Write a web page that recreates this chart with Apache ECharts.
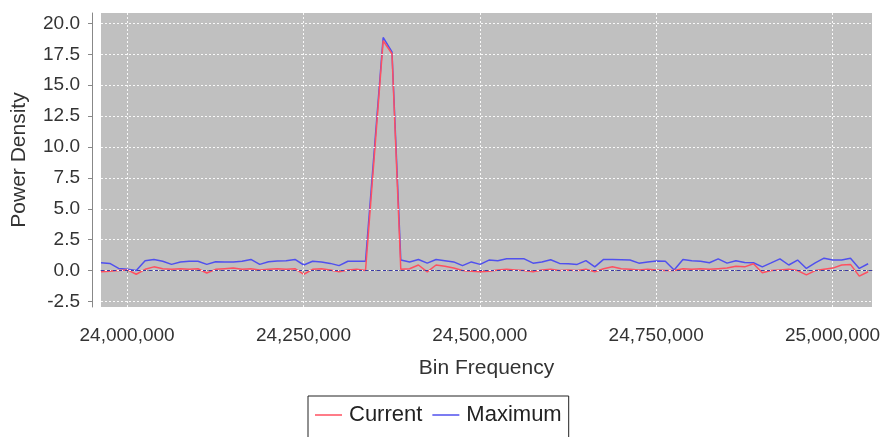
<!DOCTYPE html>
<html>
<head>
<meta charset="utf-8">
<script src="https://cdn.jsdelivr.net/npm/echarts@6/dist/echarts.min.js"></script>
<style>
html,body{margin:0;padding:0;background:#fff;}
#chart{width:886px;height:437px;}
</style>
</head>
<body>
<div id="chart"></div>
<script>
// Bin frequencies (Hz)
var binFrequency = [
  23963000, 23975500, 23988000, 24000500, 24013000, 24025500, 24038000, 24050500,
  24063000, 24075500, 24088000, 24100500, 24113000, 24125500, 24138000, 24150500,
  24163000, 24175500, 24188000, 24200500, 24213000, 24225500, 24238000, 24250500,
  24263000, 24275500, 24288000, 24300500, 24313000, 24325500, 24338000, 24350500,
  24363000, 24375500, 24388000, 24400500, 24413000, 24425500, 24438000, 24450500,
  24463000, 24475500, 24488000, 24500500, 24513000, 24525500, 24538000, 24550500,
  24563000, 24575500, 24588000, 24600500, 24613000, 24625500, 24638000, 24650500,
  24663000, 24675500, 24688000, 24700500, 24713000, 24725500, 24738000, 24750500,
  24763000, 24775500, 24788000, 24800500, 24813000, 24825500, 24838000, 24850500,
  24863000, 24875500, 24888000, 24900500, 24913000, 24925500, 24938000, 24950500,
  24963000, 24975500, 24988000, 25000500, 25013000, 25025500, 25038000, 25050500
];
// Current power density
var currentValues = [
  -0.10, -0.05, 0.00, 0.05, -0.30, 0.10, 0.30, 0.15,
  0.10, 0.15, 0.10, 0.15, -0.20, 0.10, 0.15, 0.20,
  0.10, 0.15, 0.05, 0.10, 0.15, 0.10, 0.15, -0.30,
  0.10, 0.15, 0.05, -0.10, 0.05, 0.10, 0.00, 9.30,
  18.60, 17.55, 0.10, 0.15, 0.45, -0.10, 0.45, 0.35,
  0.20, 0.00, -0.05, -0.10, -0.05, 0.05, 0.10, 0.05,
  0.00, -0.10, 0.05, 0.10, 0.00, 0.05, 0.00, 0.10,
  -0.10, 0.15, 0.30, 0.15, 0.10, 0.05, 0.10, 0.05,
  0.00, 0.00, 0.15, 0.10, 0.15, 0.10, 0.15, 0.20,
  0.35, 0.30, 0.55, -0.17, 0.00, 0.05, 0.10, 0.00,
  -0.35, 0.00, 0.10, 0.20, 0.45, 0.50, -0.45, -0.10
];
// Maximum power density
var maximumValues = [
  0.63, 0.58, 0.17, 0.10, 0.00, 0.80, 0.90, 0.75,
  0.50, 0.70, 0.75, 0.75, 0.50, 0.72, 0.70, 0.70,
  0.75, 0.90, 0.50, 0.72, 0.78, 0.80, 0.90, 0.45,
  0.75, 0.70, 0.58, 0.40, 0.75, 0.75, 0.75, 9.80,
  18.87, 17.70, 0.85, 0.70, 0.90, 0.60, 0.90, 0.80,
  0.70, 0.40, 0.70, 0.50, 0.85, 0.80, 0.95, 0.95,
  0.95, 0.60, 0.70, 0.88, 0.58, 0.55, 0.50, 0.80,
  0.30, 0.90, 0.90, 0.88, 0.85, 0.60, 0.70, 0.78,
  0.75, 0.05, 0.90, 0.80, 0.75, 0.63, 0.95, 0.60,
  0.80, 0.65, 0.63, 0.30, 0.62, 0.95, 0.45, 0.85,
  0.17, 0.62, 1.00, 0.85, 0.85, 1.00, 0.17, 0.55
];
var yTicks = [-2.5, 0, 2.5, 5, 7.5, 10, 12.5, 15, 17.5, 20];
var xTicks = [24000000, 24250000, 24500000, 24750000, 25000000];
var seriesNames = ['Current', 'Maximum'];

function pairs(xs, ys) {
  var out = [];
  for (var i = 0; i < xs.length; i++) out.push([xs[i], ys[i]]);
  return out;
}
function fmtThousands(v) {
  return String(Math.round(v)).replace(/\B(?=(\d{3})+(?!\d))/g, ',');
}

var FONT = 'Liberation Sans, Arial, sans-serif';
var gridLines = [];
yTicks.forEach(function (v) { gridLines.push({ yAxis: v }); });
xTicks.forEach(function (v) { gridLines.push({ xAxis: v }); });

var chart = echarts.init(document.getElementById('chart'), null, { renderer: 'canvas' });
chart.setOption({
  animation: false,
  backgroundColor: '#ffffff',
  textStyle: { fontFamily: FONT },
  grid: {
    left: 101, right: 14, top: 13, bottom: 130,
    show: true, backgroundColor: '#c0c0c0', borderWidth: 0
  },
  legend: {
    data: seriesNames,
    left: 308, top: 396,
    orient: 'horizontal',
    icon: 'rect',
    itemWidth: 27, itemHeight: 1.5,
    itemGap: 10,
    padding: [8, 7, 16, 7],
    borderColor: '#222', borderWidth: 1,
    textStyle: { fontFamily: FONT, fontSize: 22, color: '#222', padding: [0, 0, 0, 2] }
  },
  xAxis: {
    type: 'value',
    min: 23963000, max: 25056000,
    offset: 9,
    name: 'Bin Frequency',
    nameLocation: 'middle',
    nameGap: 42,
    nameTextStyle: { fontFamily: FONT, fontSize: 21, color: '#333' },
    axisLine: { show: true, lineStyle: { color: '#888', width: 1 } },
    axisTick: { show: true, length: 4, customValues: xTicks, lineStyle: { color: '#888' } },
    axisLabel: {
      customValues: xTicks, margin: 10,
      fontFamily: FONT, fontSize: 19, color: '#333',
      formatter: fmtThousands
    },
    splitLine: { show: false }
  },
  yAxis: {
    type: 'value',
    min: -2.95, max: 20.85,
    offset: 9,
    name: 'Power Density',
    nameLocation: 'middle',
    nameGap: 62,
    nameRotate: 90,
    nameTextStyle: { fontFamily: FONT, fontSize: 21, color: '#333' },
    axisLine: { show: true, lineStyle: { color: '#888', width: 1 } },
    axisTick: { show: true, length: 4, customValues: yTicks, lineStyle: { color: '#888' } },
    axisLabel: {
      customValues: yTicks, margin: 12,
      fontFamily: FONT, fontSize: 19, color: '#333',
      formatter: function (v) { return v.toFixed(1); }
    },
    splitLine: { show: false }
  },
  series: [
    {
      name: 'grid', type: 'line', data: [], silent: true, z: 1,
      markLine: {
        silent: true, symbol: ['none', 'none'], label: { show: false },
        lineStyle: { color: '#ffffff', width: 1, type: [2, 2], opacity: 0.9 },
        data: gridLines, animation: false
      }
    },
    {
      name: 'zero', type: 'line', data: [], silent: true, z: 2,
      markLine: {
        silent: true, symbol: ['none', 'none'], label: { show: false },
        lineStyle: { color: '#3a3aa8', width: 1, type: [3, 3] },
        data: [{ yAxis: 0 }], animation: false
      }
    },
    {
      name: 'Maximum', type: 'line', z: 3,
      data: pairs(binFrequency, maximumValues),
      showSymbol: false, symbol: 'none',
      lineStyle: { color: '#5050ee', width: 1.5 },
      itemStyle: { color: '#5050ee' }
    },
    {
      name: 'Current', type: 'line', z: 4,
      data: pairs(binFrequency, currentValues),
      showSymbol: false, symbol: 'none',
      lineStyle: { color: '#ff5060', width: 1.5 },
      itemStyle: { color: '#ff5060' }
    }
  ]
});
</script>
</body>
</html>
